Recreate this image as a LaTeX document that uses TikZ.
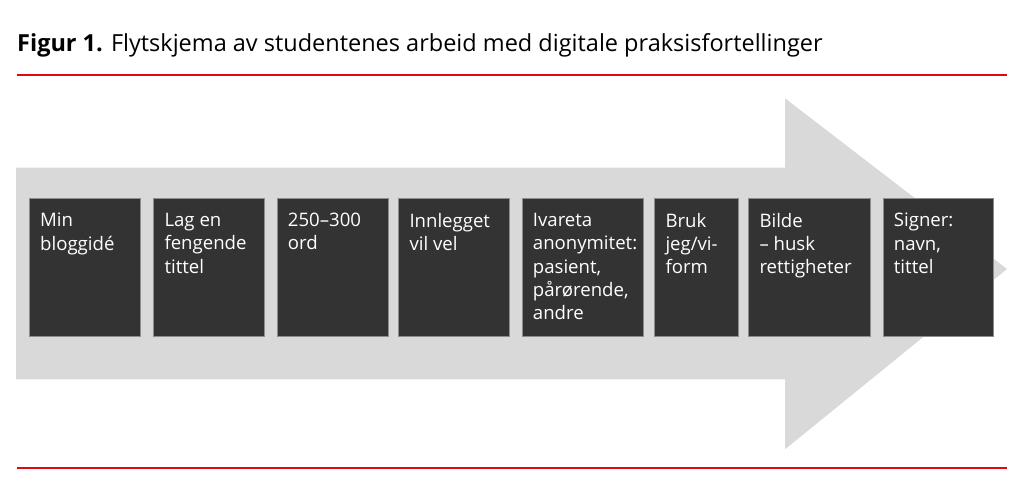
\documentclass[tikz,border=0pt]{standalone}
\usepackage{fontspec}
\setmainfont{Open Sans}
\definecolor{rod}{HTML}{E30613}
\definecolor{pilgraa}{HTML}{D9D9D9}
\definecolor{boksgraa}{HTML}{333333}
\begin{document}
\begin{tikzpicture}[x = 1pt, y = 1pt,
        blokk/.style = {fill = boksgraa, draw = black!45, line width = 0.6pt, inner sep = 0pt, anchor = north west, minimum height = 138pt},
        blokktekst/.style = {text = white, anchor = north west, inner sep = 0pt, align = left, font = \fontsize{18.6}{23.3}\selectfont}]
        \useasboundingbox (0, 0) rectangle (1024, 496);
        \fill [pilgraa] (16, 328.3) -- (785, 328.3) -- (785, 397.7) -- (1007, 227) -- (785, 46.7) -- (785, 116.7) -- (16, 116.7) -- cycle;
        \draw [rod, line width = 2pt] (16.5, 421) -- (1007, 421);
        \draw [rod, line width = 2pt] (16.5, 28.3) -- (1007, 28.3);
        \node [anchor = base west, inner sep = 0pt, font = \fontsize{23.5}{28}\selectfont] (tittel) at (17, 444.3) {\textbf{Figur 1.} Flytskjema av studentenes arbeid med digitale praksisfortellinger};
        \node [blokk, minimum width = 111pt] (b1) at (29, 298) {};
        \node [blokk, minimum width = 111pt] (b2) at (153.3, 298) {};
        \node [blokk, minimum width = 111pt] (b3) at (276.7, 298) {};
        \node [blokk, minimum width = 111pt] (b4) at (398.3, 298) {};
        \node [blokk, minimum width = 121.6pt] (b5) at (521.7, 298) {};
        \node [blokk, minimum width = 83.4pt] (b6) at (654.3, 298) {};
        \node [blokk, minimum width = 122pt] (b7) at (748.3, 298) {};
        \node [blokk, minimum width = 110.6pt] (b8) at (882.7, 298) {};
        \node [blokktekst] (t1) at ([shift = {(11, -15)}]b1.north west) {Min\\bloggidé};
        \node [blokktekst] (t2) at ([shift = {(11, -15)}]b2.north west) {Lag en\\fengende\\tittel};
        \node [blokktekst] (t3) at ([shift = {(11, -15)}]b3.north west) {250–300\\ord};
        \node [blokktekst] (t4) at ([shift = {(11, -15)}]b4.north west) {Innlegget\\vil vel};
        \node [blokktekst] (t5) at ([shift = {(11, -15)}]b5.north west) {Ivareta\\anonymitet:\\pasient,\\pårørende,\\andre};
        \node [blokktekst] (t6) at ([shift = {(11, -15)}]b6.north west) {Bruk\\jeg/vi-\\form};
        \node [blokktekst] (t7) at ([shift = {(11, -15)}]b7.north west) {Bilde\\– husk\\rettigheter};
        \node [blokktekst] (t8) at ([shift = {(11, -15)}]b8.north west) {Signer:\\navn,\\tittel};
    \end{tikzpicture}
\end{document}
